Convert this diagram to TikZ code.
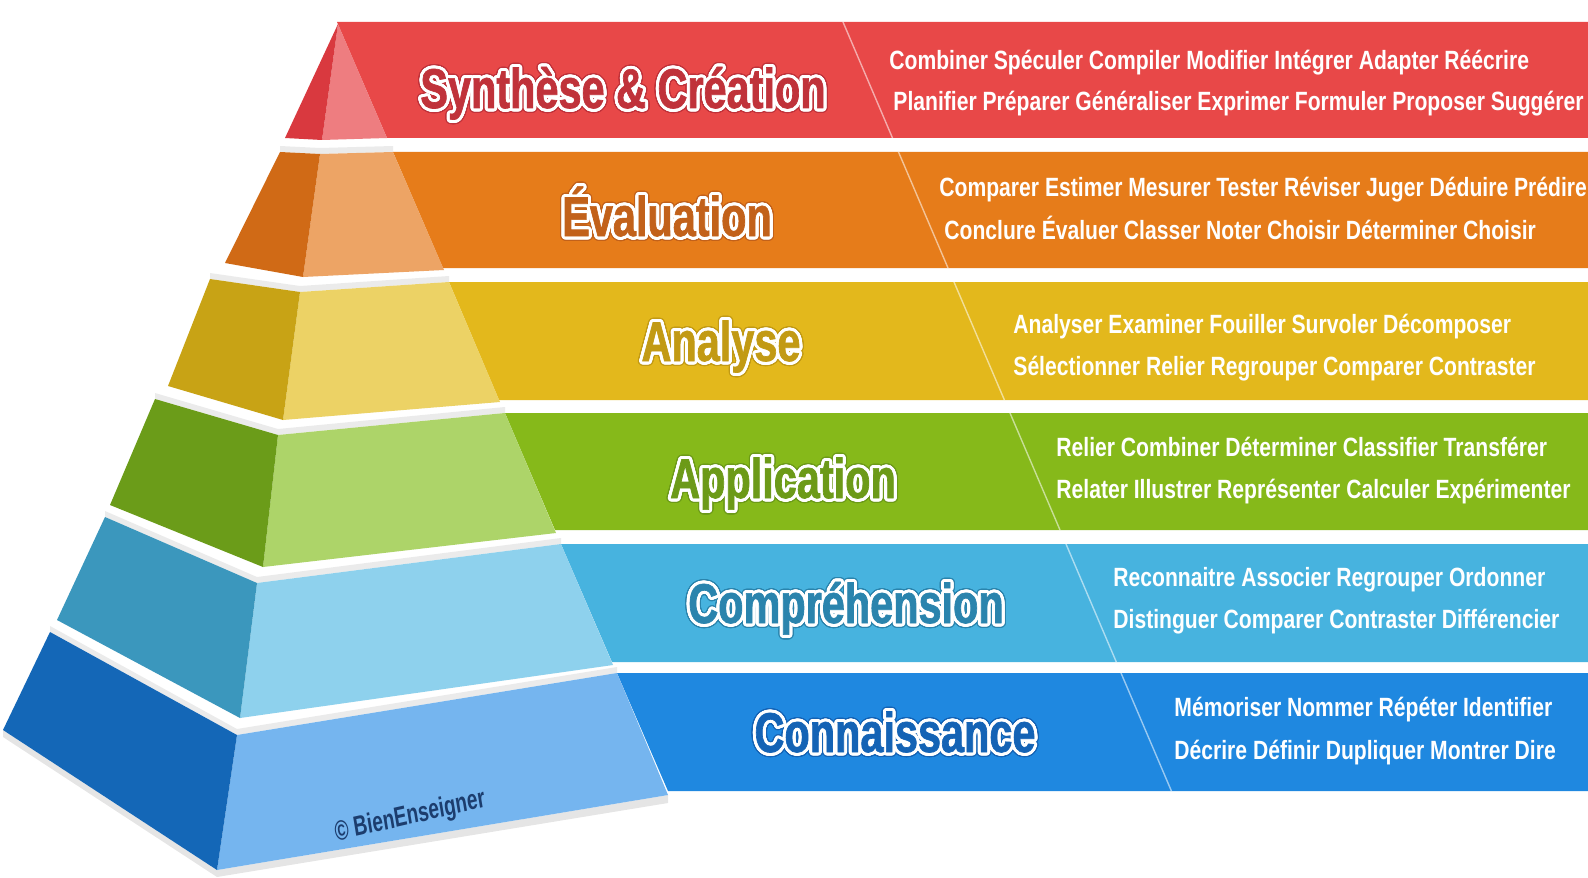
\documentclass[tikz,border=0pt]{standalone}
\usepackage{fontspec}
\usepackage[copies]{contour}
\newfontfamily\titlefont[FakeStretch=0.74,FakeBold=1.2]{Liberation Sans Bold}
\newfontfamily\bodyfont[FakeStretch=0.8]{Liberation Sans Bold}
\contournumber{32}
\newcommand\ttl[2]{\rlap{\contourlength{2.2pt}\contour{#1}{\textcolor{#1}{#2}}}\contourlength{1.5pt}\contour{white}{\textcolor{#1}{#2}}}
% band colours
\definecolor{bRed}{HTML}{E84848}
\definecolor{bOra}{HTML}{E67C1A}
\definecolor{bYel}{HTML}{E3B81C}
\definecolor{bGre}{HTML}{86B91A}
\definecolor{bLbl}{HTML}{47B3DF}
\definecolor{bBlu}{HTML}{1F88E0}
% left (dark) faces
\definecolor{dRed}{HTML}{D9393F}
\definecolor{dOra}{HTML}{D06A16}
\definecolor{dYel}{HTML}{C8A315}
\definecolor{dGre}{HTML}{6B9C19}
\definecolor{dLbl}{HTML}{3B97BD}
\definecolor{dBlu}{HTML}{1467B7}
% front (light) faces
\definecolor{lRed}{HTML}{EE7D80}
\definecolor{lOra}{HTML}{EDA465}
\definecolor{lYel}{HTML}{ECD265}
\definecolor{lGre}{HTML}{ADD469}
\definecolor{lLbl}{HTML}{8ED1ED}
\definecolor{lBlu}{HTML}{75B5EF}
% title fills
\definecolor{tRed}{HTML}{C0323A}
\definecolor{tOra}{HTML}{C2611A}
\definecolor{tYel}{HTML}{C29A14}
\definecolor{tGre}{HTML}{6C9A18}
\definecolor{tLbl}{HTML}{2A84AD}
\definecolor{tBlu}{HTML}{1463B5}
\definecolor{wmark}{HTML}{1C3D6E}
\begin{document}
\begin{tikzpicture}[x=0.5pt,y=-0.5pt,
  title/.style={font=\titlefont\fontsize{28}{30}\selectfont, anchor=base, inner sep=0pt},
  verbs/.style={font=\bodyfont\fontsize{13.2}{15}\selectfont, text=white, anchor=base west, inner sep=0pt},
  divider/.style={draw=white, draw opacity=0.55, line width=0.7pt},
  gapshade/.style={fill=black, fill opacity=0.08, draw=none},
  ]
\useasboundingbox (0,0) rectangle (1588,877);
\fill[white] (0,0) rectangle (1588,877);

% ---- bands ----
\fill[bRed] (337,22) -- (1588,22) -- (1588,138) -- (387,138) -- cycle;
\fill[bOra] (393,152) -- (1588,152) -- (1588,268) -- (443,268) -- cycle;
\fill[bYel] (449,282) -- (1588,282) -- (1588,400) -- (499,400) -- cycle;
\fill[bGre] (505,413) -- (1588,413) -- (1588,530) -- (555,530) -- cycle;
\fill[bLbl] (561,544) -- (1588,544) -- (1588,662) -- (612,662) -- cycle;
\fill[bBlu] (617,673) -- (1588,673) -- (1588,791) -- (668,791) -- cycle;

% ---- shading on the tier tops ----
\fill[gapshade] (280,152) -- (320,154) -- (393,152) -- (393,146) -- (320,148) -- (280,146) -- cycle;
\fill[gapshade] (210,279) -- (300,292) -- (449,282) -- (449,276) -- (300,286) -- (210,273) -- cycle;
\fill[gapshade] (155,399) -- (278,435) -- (505,413) -- (505,407) -- (278,429) -- (155,393) -- cycle;
\fill[gapshade] (105,517) -- (257,583) -- (561,544) -- (561,538) -- (257,577) -- (105,511) -- cycle;
\fill[gapshade] (50,632) -- (237,735) -- (617,673) -- (617,667) -- (237,729) -- (50,626) -- cycle;
\fill[black, fill opacity=0.10] (3,730) -- (217,870) -- (668,795) -- (668,803) -- (217,877) -- (3,737) -- cycle;

% ---- pyramid: tier 1 ----
\fill[lRed] (338,24) -- (387,138) -- (322,140) -- cycle;
\fill[dRed] (338,24) -- (322,140) -- (285,138) -- cycle;
% tier 2
\fill[lOra] (320,154) -- (393,152) -- (444,270) -- (303,277) -- cycle;
\fill[dOra] (280,152) -- (320,154) -- (303,277) -- (225,263) -- cycle;
% tier 3
\fill[lYel] (300,292) -- (449,282) -- (500,402) -- (283,420) -- cycle;
\fill[dYel] (210,279) -- (300,292) -- (283,420) -- (168,386) -- cycle;
% tier 4
\fill[lGre] (278,435) -- (505,413) -- (556,533) -- (263,567) -- cycle;
\fill[dGre] (155,399) -- (278,435) -- (263,567) -- (110,505) -- cycle;
% tier 5
\fill[lLbl] (257,583) -- (561,544) -- (613,665) -- (240,718) -- cycle;
\fill[dLbl] (105,517) -- (257,583) -- (240,718) -- (57,620) -- cycle;
% tier 6
\fill[lBlu] (237,735) -- (617,673) -- (668,795) -- (217,870) -- cycle;
\fill[dBlu] (50,632) -- (237,735) -- (217,870) -- (3,730) -- cycle;

% ---- dividers ----
\draw[divider] (843,22) -- (892.5,138);
\draw[divider] (898.5,152) -- (948,268);
\draw[divider] (954,282) -- (1004.4,400);
\draw[divider] (1010,413) -- (1060,530);
\draw[divider] (1066,544) -- (1116.3,662);
\draw[divider] (1121,673) -- (1171.4,791);

% ---- titles ----
\node[title] (t1) at (623,108) {\ttl{tRed}{Synthèse \& Création}};
\node[title] (t2) at (667,236) {\ttl{tOra}{Évaluation}};
\node[title] (t3) at (721,361) {\ttl{tYel}{Analyse}};
\node[title] (t4) at (783,498) {\ttl{tGre}{Application}};
\node[title] (t5) at (846,623) {\ttl{tLbl}{Compréhension}};
\node[title] (t6) at (895,752) {\ttl{tBlu}{Connaissance}};

% ---- verbs ----
\node[verbs] (r1) at (889,70) {Combiner Spéculer Compiler Modifier Intégrer Adapter Réécrire};
\node[verbs] (r2) at (893,111) {Planifier Préparer Généraliser Exprimer Formuler Proposer Suggérer};
\node[verbs] (o1) at (939,197) {Comparer Estimer Mesurer Tester Réviser Juger Déduire Prédire};
\node[verbs] (o2) at (944,240) {Conclure Évaluer Classer Noter Choisir Déterminer Choisir};
\node[verbs] (y1) at (1013,333) {Analyser Examiner Fouiller Survoler Décomposer};
\node[verbs] (y2) at (1013,375) {Sélectionner Relier Regrouper Comparer Contraster};
\node[verbs] (g1) at (1056,456) {Relier Combiner Déterminer Classifier Transférer};
\node[verbs] (g2) at (1056,498) {Relater Illustrer Représenter Calculer Expérimenter};
\node[verbs] (l1) at (1113,586) {Reconnaitre Associer Regrouper Ordonner};
\node[verbs] (l2) at (1113,628) {Distinguer Comparer Contraster Différencier};
\node[verbs] (b1) at (1174,716) {Mémoriser Nommer Répéter Identifier};
\node[verbs] (b2) at (1174,759) {Décrire Définir Dupliquer Montrer Dire};

% ---- watermark ----
\node[font=\bodyfont\fontsize{14}{16}\selectfont, text=wmark, xscale=0.85, rotate=11, inner sep=0pt] (wm) at (410,817) {© BienEnseigner};
\end{tikzpicture}
\end{document}
